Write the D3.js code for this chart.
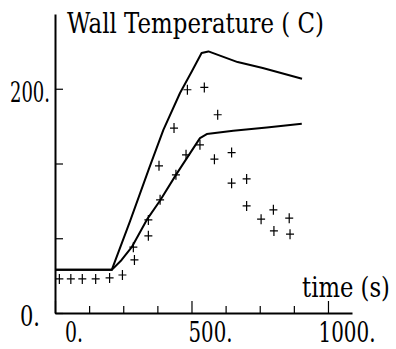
<!DOCTYPE html>
<html>
<head>
<meta charset="utf-8">
<script src="https://cdn.jsdelivr.net/npm/d3@7"></script>
<style>
  html, body { margin: 0; padding: 0; background: #fff; }
  svg { display: block; }
</style>
</head>
<body>
<svg id="chart" width="396" height="349"></svg>
<script>
// ---- data ----
const title = "Wall Temperature ( C)";
const xTitle = "time (s)";
const xTickValues = [0, 125, 250, 375, 500, 625, 750, 875, 1000];
const xLabelValues = [0, 500, 1000];
const xLabelText = ["0.", "500.", "1000."];
const yTickValues = [0, 200 / 3, 400 / 3, 200];
const yLabelValues = [0, 200];
const yLabelText = ["0.", "200."];

// computed curve, upper
const upperTime = [0, 208, 275, 345, 397, 458, 501, 537, 562, 669, 761, 905];
const upperTemp = [38.5, 38.5, 82.0, 129.2, 163.4, 196.2, 215.4, 231.9, 233.3, 223.8, 218.5, 208.9];
// computed curve, lower
const lowerTime = [0, 208, 244, 281, 336, 385, 443, 495, 531, 556, 653, 776, 904];
const lowerTemp = [38.5, 38.5, 47.3, 58.7, 83.0, 100.3, 123.2, 142.6, 156.0, 159.6, 162.5, 165.4, 168.8];
// measured points, upper sensor
const measUpperTime = [16, 58, 100, 149, 200, 247, 287, 342, 381, 436, 485, 547, 596, 647, 702, 755, 800, 858];
const measUpperTemp = [30.4, 30.4, 30.4, 30.4, 31.3, 33.9, 58.7, 83.0, 131.3, 164.9, 199.1, 201.2, 176.8, 143.1, 119.6, 83.7, 92.0, 84.6];
// measured points, lower sensor
const measLowerTime = [291, 342, 385, 443, 480, 531, 584, 647, 702, 802, 861];
const measLowerTemp = [47.3, 68.8, 100.9, 123.2, 141.1, 150.0, 137.2, 115.8, 95.5, 73.2, 70.3];

// ---- layout ----
const FONT = "'DejaVu Serif', serif";
const svg = d3.select("#chart");
const x = d3.scaleLinear().domain([0, 1088]).range([55, 352]);
const y = d3.scaleLinear().domain([0, 266.67]).range([313, 14]);

// y axis (ticks inward)
const yAxis = d3.axisRight(y).tickValues(yTickValues).tickSize(8).tickSizeOuter(0).tickFormat("");
const gy = svg.append("g").attr("transform", `translate(${x(0)},0)`).call(yAxis);
gy.select(".domain").attr("stroke", "#000").attr("stroke-width", 2);
gy.selectAll(".tick line").attr("stroke", "#000").attr("stroke-width", 1.2);

// x axis (ticks upward)
const xAxis = d3.axisTop(x).tickValues(xTickValues).tickSize(7).tickSizeOuter(0).tickFormat("");
const gx = svg.append("g").attr("transform", `translate(0,${y(0)})`).call(xAxis);
gx.select(".domain").attr("stroke", "#000").attr("stroke-width", 1.8);
gx.selectAll(".tick line").attr("stroke", "#000").attr("stroke-width", 1.2)
  .attr("y2", d => (d % 500 === 0 ? -12 : -7));

// text helper: font size chosen so the natural width equals len, then stretched vertically
function addText(txt, px, py, size, anchor, len) {
  const t = svg.append("text")
    .attr("text-anchor", anchor)
    .attr("font-family", FONT)
    .attr("font-size", size)
    .attr("fill", "#000")
    .text(txt);
  const w = t.node().getComputedTextLength() || len;
  const fs = size * len / w;
  t.attr("font-size", fs)
   .attr("transform", `translate(${px},${py}) scale(1,${size / fs})`);
}
const digitW = t => t.replace(".", "").length * 13 + 5;
xLabelValues.forEach((v, i) => addText(xLabelText[i], x(v) + 19, 342, 27, "middle", digitW(xLabelText[i])));
yLabelValues.forEach((v, i) => addText(yLabelText[i], 30, y(v) + 13, 28, "middle", yLabelText[i].length * 10));

// titles
addText(title, 67, 33, 27, "start", 257);
addText(xTitle, 302, 297, 28, "start", 88);

// curves
const line = d3.line().x(d => x(d[0])).y(d => y(d[1]));
[[upperTime, upperTemp], [lowerTime, lowerTemp]].forEach(([t, v]) => {
  svg.append("path")
    .datum(t.map((tt, i) => [tt, v[i]]))
    .attr("fill", "none")
    .attr("stroke", "#000")
    .attr("stroke-width", 2)
    .attr("stroke-linejoin", "round")
    .attr("d", line);
});

// measured points as plus markers
const pts = measUpperTime.map((t, i) => [t, measUpperTemp[i]])
  .concat(measLowerTime.map((t, i) => [t, measLowerTemp[i]]));
svg.append("g").selectAll("path.pt").data(pts).join("path")
  .attr("class", "pt")
  .attr("fill", "none")
  .attr("stroke", "#000")
  .attr("stroke-width", 1.2)
  .attr("d", d => {
    const cx = x(d[0]), cy = y(d[1]);
    return `M${cx - 4},${cy}H${cx + 4}M${cx},${cy - 5}V${cy + 5}`;
  });
</script>
</body>
</html>
